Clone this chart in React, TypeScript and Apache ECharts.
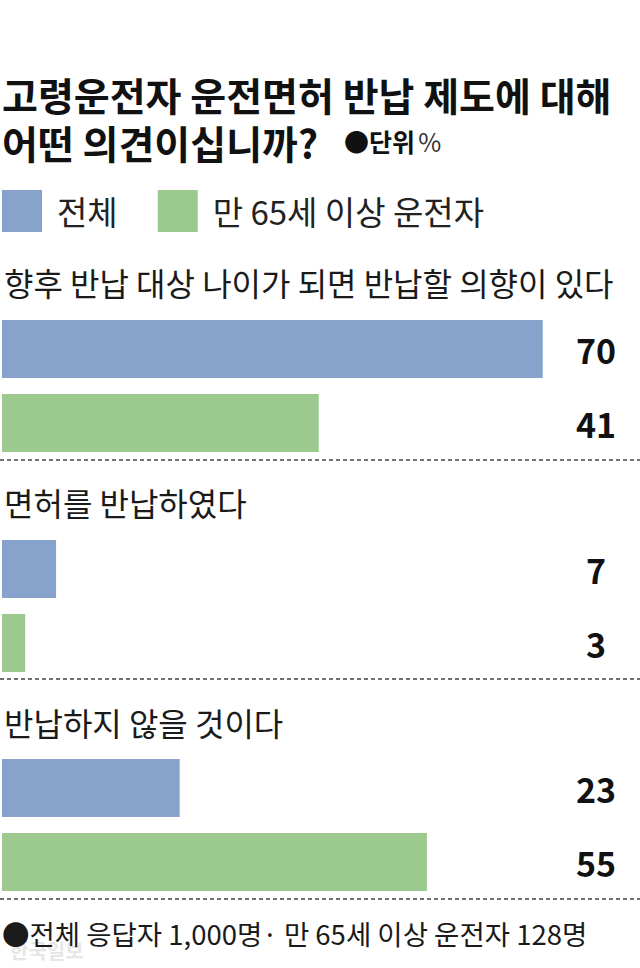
import { useEffect, useRef } from "react";
import * as echarts from "echarts";

const questions = [
  "향후 반납 대상 나이가 되면 반납할 의향이 있다",
  "면허를 반납하였다",
  "반납하지 않을 것이다",
];
const seriesNames = ["전체", "만 65세 이상 운전자"];
const totalVals = [70, 7, 23];
const seniorVals = [41, 3, 55];
const MAX = 80;

const FONT = "'Noto Sans CJK KR', 'Noto Sans', sans-serif";
const colors = ["#87a3cb", "#9cc98e"];
const gridTops = [312, 532, 751];
const labelYs = [282, 502, 722];
const dashYs = [460, 679, 899];

const App = () => {
  const chartRef = useRef<HTMLDivElement>(null);

  useEffect(() => {
    document.body.style.margin = "0";
    if (!chartRef.current) return;
    const chart = echarts.init(chartRef.current, undefined, { renderer: "svg" });

    const grids = gridTops.map((top) => ({ left: 2, right: 20, top, height: 148 }));
    const xAxes = gridTops.map((_, i) => ({ type: "value", gridIndex: i, min: 0, max: MAX, show: false }));
    const yAxes = gridTops.map((_, i) => ({
      type: "category",
      gridIndex: i,
      data: seriesNames,
      inverse: true,
      show: false,
    }));

    const series: any[] = [];
    questions.forEach((_, g) => {
      const common = { type: "bar", xAxisIndex: g, yAxisIndex: g, barWidth: 58, barGap: "-100%", silent: true };
      series.push({ ...common, name: seriesNames[0], data: [totalVals[g], "-"], itemStyle: { color: colors[0] } });
      series.push({ ...common, name: seriesNames[1], data: ["-", seniorVals[g]], itemStyle: { color: colors[1] } });
      // transparent full-width bar, only carries the value label
      series.push({
        ...common,
        name: "값",
        data: [MAX, MAX],
        itemStyle: { color: "rgba(0,0,0,0)" },
        label: {
          show: true,
          position: [594, "50%"],
          align: "center",
          verticalAlign: "middle",
          fontFamily: FONT,
          fontSize: 34,
          fontWeight: "bold",
          color: "#111",
          formatter: (p: any) => String(p.dataIndex === 0 ? totalVals[g] : seniorVals[g]),
        },
      });
    });

    const graphics: any[] = [
      {
        type: "text",
        left: 344,
        top: 128,
        style: {
          text: "{a|●단위} {b|%}",
          rich: {
            a: { fontFamily: FONT, fontSize: 25, fontWeight: "bold", fill: "#111" },
            b: { fontFamily: FONT, fontSize: 25, fill: "#333" },
          },
        },
      },
      ...questions.map((q, i) => ({
        type: "text",
        x: 4,
        y: labelYs[i],
        style: { text: q, fontFamily: FONT, fontSize: 32, fill: "#1a1a1a", verticalAlign: "middle" },
      })),
      ...dashYs.map((y) => ({
        type: "line",
        shape: { x1: 0, y1: y, x2: 640, y2: y },
        style: { stroke: "#444", lineWidth: 1.5, lineDash: [4, 3] },
      })),
      {
        type: "text",
        x: 10,
        y: 950,
        style: { text: "한국일보", fontFamily: FONT, fontSize: 20, fontWeight: "bold", fill: "#e6e6e6", verticalAlign: "middle" },
        z: 0,
      },
      {
        type: "text",
        x: 2,
        y: 933,
        style: {
          text: "●전체 응답자 1,000명· 만 65세 이상 운전자 128명",
          fontFamily: FONT,
          fontSize: 27.5,
          fill: "#1a1a1a",
          verticalAlign: "middle",
        },
        z: 10,
      },
    ];

    chart.setOption({
      animation: false,
      backgroundColor: "#ffffff",
      title: {
        text: "고령운전자 운전면허 반납 제도에 대해\n어떤 의견이십니까?",
        left: 2,
        top: 70,
        padding: 0,
        textStyle: { fontFamily: FONT, fontSize: 39, fontWeight: "bold", color: "#111", lineHeight: 48 },
      },
      legend: {
        data: seriesNames,
        left: 2,
        top: 190,
        padding: 0,
        icon: "rect",
        itemWidth: 40,
        itemHeight: 42,
        itemGap: 40,
        selectedMode: false,
        textStyle: { fontFamily: FONT, fontSize: 33, color: "#222", padding: [0, 0, 0, 10] },
      },
      grid: grids,
      xAxis: xAxes,
      yAxis: yAxes,
      series,
      graphic: graphics,
    });

    return () => {
      chart.dispose();
    };
  }, []);

  return <div ref={chartRef} style={{ width: "640px", height: "968px" }} />;
};

export default App;
